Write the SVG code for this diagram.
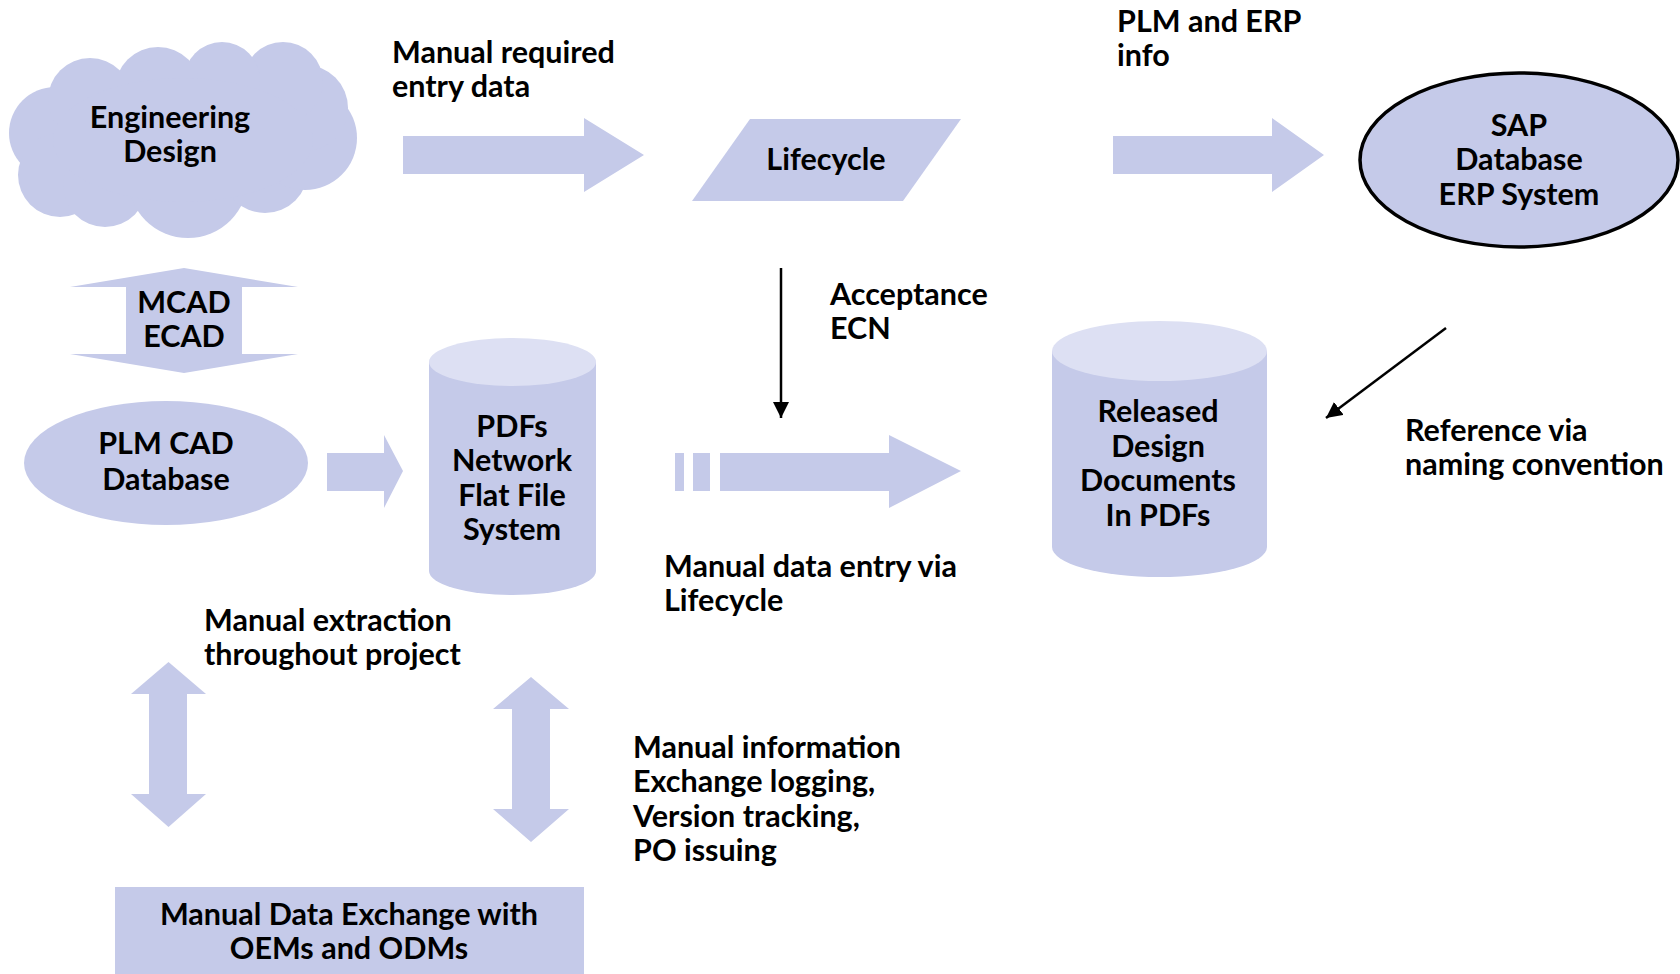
<svg xmlns="http://www.w3.org/2000/svg" width="1680" height="974" viewBox="0 0 1680 974">
<defs>
<style>
.f{fill:#c5cae9}
.lt{fill:#dde0f3}
.t{font-family:Lato,"Open Sans",sans-serif;font-weight:700;font-size:30.5px;fill:#000}
.m{text-anchor:middle}
.ln{stroke:#000;stroke-width:2.5;fill:none}
</style>
<marker id="ah" markerUnits="userSpaceOnUse" markerWidth="18" markerHeight="16" refX="16" refY="8" orient="auto">
<path d="M0,0 L16,8 L0,16 Z" fill="#000"/>
</marker>
</defs>
<rect width="1680" height="974" fill="#fff"/>

<g id="engineering-design">
<g class="f">
<circle cx="55" cy="133" r="46"/>
<circle cx="60" cy="175" r="42"/>
<circle cx="105" cy="185" r="42"/>
<circle cx="188" cy="178" r="60"/>
<circle cx="265" cy="170" r="43"/>
<circle cx="305" cy="138" r="52"/>
<circle cx="305" cy="108" r="43"/>
<circle cx="283" cy="82" r="40"/>
<circle cx="222" cy="80" r="38"/>
<circle cx="158" cy="90" r="43"/>
<circle cx="90" cy="100" r="42"/>
<ellipse cx="183" cy="140" rx="130" ry="62"/>
</g>
<text class="t m" x="170" y="128">Engineering</text>
<text class="t m" x="170" y="162">Design</text>
</g>

<g id="lifecycle">
<polygon class="f" points="750,119 961,119 903,201 692,201"/>
<text class="t m" x="826" y="170">Lifecycle</text>
</g>

<g id="sap">
<ellipse cx="1519" cy="160" rx="159" ry="87" fill="#c5cae9" stroke="#000" stroke-width="3.5"/>
<text class="t m" x="1519" y="136">SAP</text>
<text class="t m" x="1519" y="170">Database</text>
<text class="t m" x="1519" y="205">ERP System</text>
</g>

<g id="plm-cad">
<ellipse class="f" cx="166" cy="463" rx="142" ry="62"/>
<text class="t m" x="166" y="454">PLM CAD</text>
<text class="t m" x="166" y="490">Database</text>
</g>

<g id="pdfs">
<path class="f" d="M429,362 L429,571 A83.5,24 0 0 0 596,571 L596,362 Z"/>
<ellipse class="lt" cx="512.5" cy="362" rx="83.5" ry="24"/>
<text class="t m" x="512" y="437">PDFs</text>
<text class="t m" x="512" y="471">Network</text>
<text class="t m" x="512" y="506">Flat File</text>
<text class="t m" x="512" y="540">System</text>
</g>

<g id="released">
<path class="f" d="M1052,351 L1052,547 A107.5,30 0 0 0 1267,547 L1267,351 Z"/>
<ellipse class="lt" cx="1159.5" cy="351" rx="107.5" ry="30"/>
<text class="t m" x="1158" y="422">Released</text>
<text class="t m" x="1158" y="457">Design</text>
<text class="t m" x="1158" y="491">Documents</text>
<text class="t m" x="1158" y="526">In PDFs</text>
</g>

<g id="oem-exchange">
<rect class="f" x="115" y="887" width="469" height="87"/>
<text class="t m" x="349" y="925">Manual Data Exchange with</text>
<text class="t m" x="349" y="959">OEMs and ODMs</text>
</g>

<g id="connectors">
<polygon class="f" points="403,136 584,136 584,118 644,155 584,192 584,174 403,174"/>
<polygon class="f" points="1113,136 1272,136 1272,118 1324,155 1272,192 1272,174 1113,174"/>
<polygon class="f" points="184,268 298,287 242,287 242,354 298,354 184,373 70,354 126,354 126,287 70,287"/>
<polygon class="f" points="327,453 384,453 384,435 403,471 384,508 384,491 327,491"/>
<rect class="f" x="675" y="453" width="9" height="38"/>
<rect class="f" x="693" y="453" width="17" height="38"/>
<polygon class="f" points="720,453 889,453 889,435 961,471 889,508 889,491 720,491"/>
<polygon class="f" points="168.5,662 206,694 187,694 187,794 206,794 168.5,827 131,794 149,794 149,694 131,694"/>
<polygon class="f" points="531,677 569,709 550,709 550,809 569,809 531,842 493,809 512,809 512,709 493,709"/>
<line class="ln" x1="781" y1="268" x2="781" y2="418" marker-end="url(#ah)"/>
<line class="ln" x1="1446" y1="328" x2="1326" y2="418" marker-end="url(#ah)"/>
<text class="t" x="392" y="63">Manual required</text>
<text class="t" x="392" y="97">entry data</text>
<text class="t" x="1117" y="32">PLM and ERP</text>
<text class="t" x="1117" y="66">info</text>
<text class="t m" x="184" y="313">MCAD</text>
<text class="t m" x="184" y="347">ECAD</text>
<text class="t" x="830" y="305">Acceptance</text>
<text class="t" x="830" y="339">ECN</text>
<text class="t" x="664" y="577">Manual data entry via</text>
<text class="t" x="664" y="611">Lifecycle</text>
<text class="t" x="1405" y="441">Reference via</text>
<text class="t" x="1405" y="475">naming convention</text>
<text class="t" x="204" y="631">Manual extraction</text>
<text class="t" x="204" y="665">throughout project</text>
<text class="t" x="633" y="758">Manual information</text>
<text class="t" x="633" y="792">Exchange logging,</text>
<text class="t" x="633" y="827">Version tracking,</text>
<text class="t" x="633" y="861">PO issuing</text>
</g>
</svg>
